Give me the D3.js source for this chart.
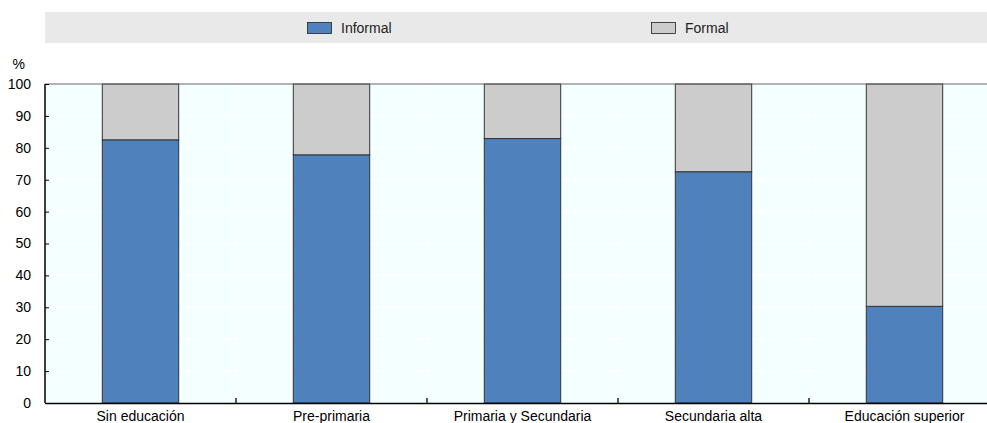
<!DOCTYPE html>
<html><head><meta charset="utf-8">
<script src="https://cdn.jsdelivr.net/npm/d3@7"></script>
<style>body{margin:0;background:#fff;}svg{display:block;font-family:"Liberation Sans Narrow","Arial Narrow","Liberation Sans",Arial,sans-serif;}</style>
</head><body><svg id="c" width="987" height="423"></svg>
<script>
const categories = ["Sin educación","Pre-primaria","Primaria y Secundaria","Secundaria alta","Educación superior"];
const informal = [82.5, 77.8, 82.9, 72.5, 30.3];
const formal = [17.5, 22.2, 17.1, 27.5, 69.7];
const seriesNames = ["Informal","Formal"];
const seriesColors = ["#4F81BD","#CCCCCC"];
const yTicks = [0,10,20,30,40,50,60,70,80,90,100];

const FONT = "Liberation Sans Narrow, Arial Narrow, Liberation Sans, Arial, sans-serif";
const FS = 14;
const svg = d3.select("#c");
const m = {left:45, right:1000, top:84, bottom:403};
const x = d3.scaleBand().domain(categories).range([m.left, m.right]).paddingInner(0).paddingOuter(0);
const y = d3.scaleLinear().domain([0,100]).range([m.bottom, m.top]);
const bw = x.bandwidth()*0.4;

// legend
svg.append("rect").attr("x",45).attr("y",12).attr("width",942).attr("height",31).attr("fill","#E9E9E9");
const legX = [307, 651];
seriesNames.forEach((s,i)=>{
  svg.append("rect").attr("x",legX[i]+0.5).attr("y",22.5).attr("width",24).attr("height",11)
    .attr("fill",seriesColors[i]).attr("stroke","#222").attr("stroke-width",0.8);
  svg.append("text").attr("x",legX[i]+34).attr("y",33).attr("font-size",FS).attr("font-family",FONT).attr("fill","#222").text(s);
});

// plot bg
svg.append("rect").attr("x",m.left).attr("y",m.top).attr("width",m.right-m.left).attr("height",m.bottom-m.top).attr("fill","#F4FFFF");
// grid
svg.append("g").selectAll("line").data(yTicks.filter(d=>d>0&&d<100)).join("line")
  .attr("x1",m.left).attr("x2",m.right).attr("y1",d=>y(d)).attr("y2",d=>y(d)).attr("stroke","#fff").attr("stroke-width",1.2);
svg.append("g").selectAll("line").data(categories.slice(1)).join("line")
  .attr("x1",d=>x(d)).attr("x2",d=>x(d)).attr("y1",m.top).attr("y2",m.bottom).attr("stroke","#fff").attr("stroke-width",1.2);

// bars
const stacked = categories.map((c,i)=>({c, vals:[informal[i], formal[i]]}));
const g = svg.append("g");
stacked.forEach(d=>{
  let base=0;
  d.vals.forEach((v,j)=>{
    g.append("rect").attr("x",x(d.c)+(x.bandwidth()-bw)/2).attr("width",bw)
      .attr("y",y(base+v)).attr("height",y(base)-y(base+v))
      .attr("fill",seriesColors[j]).attr("stroke","#333").attr("stroke-width",1);
    base+=v;
  });
});

// top border
svg.append("line").attr("x1",m.left).attr("x2",m.right).attr("y1",m.top).attr("y2",m.top).attr("stroke","#666").attr("stroke-width",1.2);

// y axis
const ya = svg.append("g").attr("transform",`translate(${m.left},0)`)
  .call(d3.axisRight(y).tickValues(yTicks).tickSize(4).tickFormat(d3.format("d")));
ya.select(".domain").attr("stroke","#000").attr("stroke-width",1.5).attr("d",`M0,${m.top}V${m.bottom}`);
ya.selectAll(".tick line").attr("stroke","#000");
ya.selectAll(".tick text").attr("x",-14).attr("text-anchor","end").attr("font-size",FS).attr("fill","#000").attr("font-family",FONT);
svg.append("text").attr("x",25).attr("y",69).attr("text-anchor","end").attr("font-size",FS).attr("font-family",FONT).text("%");

// x axis
const xa = svg.append("g").attr("transform",`translate(0,${m.bottom})`)
  .call(d3.axisBottom(x).tickSize(0).tickPadding(8));
xa.select(".domain").attr("stroke","#000").attr("stroke-width",1.6);
xa.selectAll(".tick text").attr("font-size",FS).attr("fill","#000").attr("font-family",FONT);
svg.append("g").selectAll("line").data(categories.slice(1)).join("line")
  .attr("x1",d=>x(d)).attr("x2",d=>x(d)).attr("y1",m.bottom-5).attr("y2",m.bottom).attr("stroke","#000").attr("stroke-width",1.3);
</script></body></html>
